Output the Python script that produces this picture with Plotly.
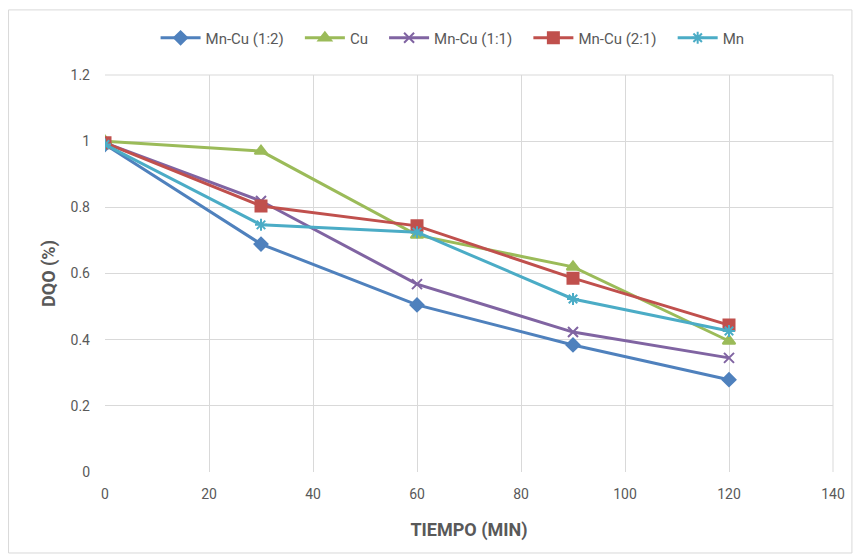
import plotly.graph_objects as go

tiempo = [0, 30, 60, 90, 120]
mncu_12 = [0.99, 0.689, 0.505, 0.384, 0.279]
cu = [1.0, 0.970, 0.716, 0.620, 0.396]
mncu_11 = [0.995, 0.819, 0.568, 0.423, 0.345]
mncu_21 = [0.995, 0.804, 0.744, 0.586, 0.444]
mn = [0.99, 0.747, 0.725, 0.523, 0.426]

series = [
    ("Mn-Cu (1:2)", mncu_12, "#4F81BD", "diamond", 10),
    ("Cu", cu, "#9BBB59", "triangle-up", 11),
    ("Mn-Cu (1:1)", mncu_11, "#8064A2", "x-thin-open", 10),
    ("Mn-Cu (2:1)", mncu_21, "#C0504D", "square", 11),
    ("Mn", mn, "#4BACC6", "asterisk-open", 10),
]

fig = go.Figure()
for name, ys, col, sym, sz in series:
    fig.add_trace(go.Scatter(
        x=tiempo, y=ys, name=name + "   ", mode="lines+markers",
        line=dict(color=col, width=3),
        marker=dict(symbol=sym, size=sz, color=col, line=dict(color=col, width=2)),
    ))

font_fam = "Liberation Sans Narrow, Roboto, sans-serif"
fig.update_layout(
    width=857, height=554,
    margin=dict(l=105, r=20, t=75, b=82),
    paper_bgcolor="white", plot_bgcolor="white",
    font=dict(family=font_fam, color="#595959", size=14),
    legend=dict(orientation="h", x=0.485, xanchor="center", y=1.093, yanchor="middle",
                font=dict(size=15, color="#595959"), itemwidth=40, tracegroupgap=0),
    xaxis=dict(range=[0, 140], dtick=20, tick0=0, showgrid=True, gridcolor="#D9D9D9",
               gridwidth=1, zeroline=False, showline=False, ticks="",
               ticklabelstandoff=12,
               tickfont=dict(size=14, color="#595959"),
               title=dict(text="<b>TIEMPO (MIN)</b>", font=dict(size=18, color="#595959"), standoff=22)),
    yaxis=dict(range=[0, 1.2], dtick=0.2, tick0=0, showgrid=True, gridcolor="#D9D9D9",
               gridwidth=1, zeroline=False, showline=False, ticks="",
               ticklabelstandoff=14,
               tickfont=dict(size=14, color="#595959"),
               title=dict(text="<b>DQO (%)</b>", font=dict(size=18, color="#595959"), standoff=10)),
    shapes=[dict(type="rect", xref="paper", yref="paper",
                 x0=-0.1325, x1=1.026, y0=-0.204, y1=1.164,
                 line=dict(color="#D9D9D9", width=1), layer="below"),
            dict(type="line", xref="paper", yref="paper", x0=1, x1=1, y0=0, y1=1,
                 line=dict(color="#D9D9D9", width=1), layer="below"),
            dict(type="line", xref="paper", yref="paper", x0=0, x1=1, y0=1, y1=1,
                 line=dict(color="#D9D9D9", width=1), layer="below")],
)

fig.write_html("out.html")
